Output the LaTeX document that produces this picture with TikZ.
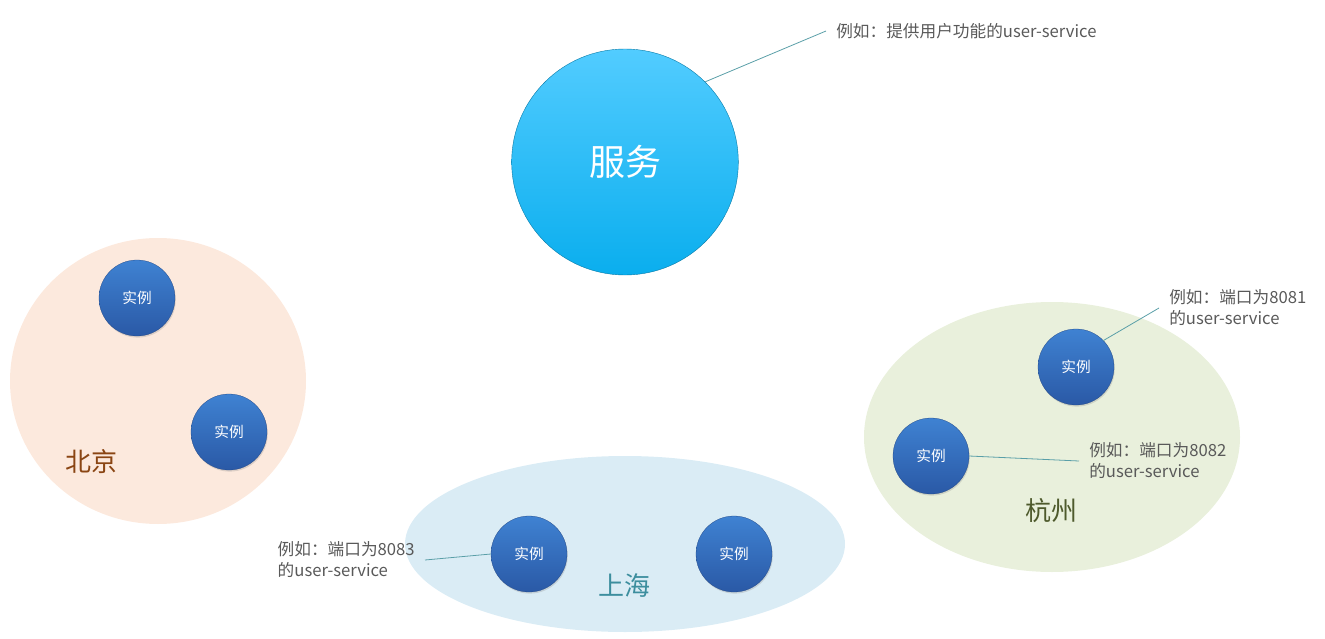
\documentclass[tikz,border=0pt]{standalone}
\usepackage{fontspec}
\setmainfont{Noto Sans CJK SC}
\usetikzlibrary{shapes.geometric,shadows}
\definecolor{svctop}{HTML}{52CCFF}
\definecolor{svcbot}{HTML}{0AAEEE}
\definecolor{insttop}{HTML}{3F82D2}
\definecolor{instbot}{HTML}{2A59A6}
\definecolor{bjfill}{HTML}{FCE9DD}
\definecolor{shfill}{HTML}{DAECF5}
\definecolor{hzfill}{HTML}{E9F0DC}
\definecolor{bjtext}{HTML}{8A4513}
\definecolor{shtext}{HTML}{3C8E9E}
\definecolor{hztext}{HTML}{4E5A2C}
\definecolor{notegray}{HTML}{595959}
\definecolor{linkteal}{HTML}{5A9FA8}

\begin{document}
\begin{tikzpicture}[
        x=0.75pt, y=-0.75pt,
        region/.style={
            ellipse,
            draw=none,
            inner sep=0pt
        },
        inst/.style={
            circle,
            minimum size=57pt,
            inner sep=0pt,
            top color=insttop,
            bottom color=instbot,
            draw=instbot!80!black,
            line width=0.2pt,
            drop shadow={opacity=0.25, shadow xshift=0.6pt, shadow yshift=-1.2pt},
            text=white,
            font=\fontsize{11pt}{12pt}\selectfont
        },
        note/.style={
            align=left,
            inner xsep=7.5pt,
            inner ysep=1pt,
            text=notegray,
            font=\fontsize{12.5pt}{15.75pt}\selectfont
        },
        city/.style={
            font=\fontsize{19.5pt}{22pt}\selectfont
        },
        link/.style={
            draw=linkteal,
            line width=0.6pt
        }
    ]
        \useasboundingbox (0,0) rectangle (1325,639);

        \node[region, fill=bjfill, minimum width=222pt, minimum height=214.5pt] (bj) at (158,381) {};
        \node[region, fill=shfill, minimum width=330pt, minimum height=132pt] (sh) at (625,544) {};
        \node[region, fill=hzfill, minimum width=282pt, minimum height=202.5pt] (hz) at (1052,437) {};

        \node[ellipse, minimum width=170pt, minimum height=169.5pt, inner sep=0pt,
              top color=svctop, bottom color=svcbot, draw=svcbot!70!black, line width=0.3pt,
              text=white, font=\fontsize{27pt}{30pt}\selectfont] (svc) at (625,162) {服务};
        \node[note, anchor=west] (svcnote) at (826,31) {例如：提供用户功能的user-service};

        \node[city, text=bjtext] (bjname) at (91,462) {北京};
        \node[inst] (bj1) at (137,298) {实例};
        \node[inst] (bj2) at (229,432) {实例};

        \node[city, text=shtext] (shname) at (624,586) {上海};
        \node[inst] (sh1) at (529,554) {实例};
        \node[inst] (sh2) at (734,554) {实例};
        \node[note, anchor=east] (shnote) at (425,560) {例如：端口为8083\\的user-service};

        \node[city, text=hztext] (hzname) at (1051,511) {杭州};
        \node[inst] (hz1) at (1076,367) {实例};
        \node[inst] (hz2) at (931,456) {实例};
        \node[note, anchor=west] (hznote1) at (1159,308) {例如：端口为8081\\的user-service};
        \node[note, anchor=west] (hznote2) at (1079,461) {例如：端口为8082\\的user-service};

        \draw[link] (svc.45) -- (svcnote.west);
        \draw[link] (shnote.east) -- (sh1.west);
        \draw[link] (hz1.44) -- (hznote1.west);
        \draw[link] (hz2.east) -- (hznote2.west);
    \end{tikzpicture}
\end{document}
